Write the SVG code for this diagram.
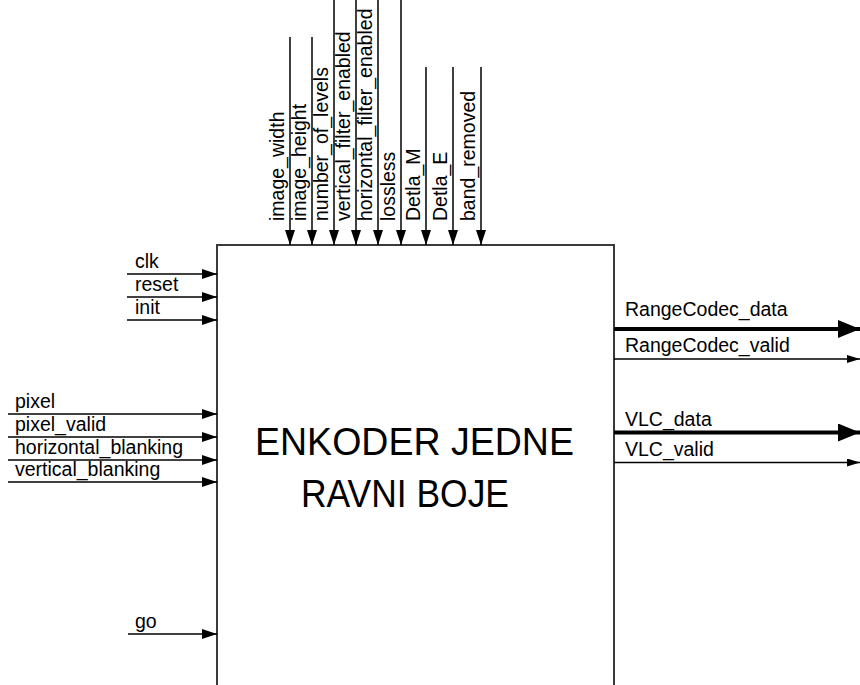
<svg xmlns="http://www.w3.org/2000/svg" width="860" height="685" viewBox="0 0 860 685">
<defs>
<style>
text{font-family:"Liberation Sans",Arial,sans-serif;fill:#000}
.lbl{font-size:19.5px}
.title{font-size:39px}
.w{stroke:#000;stroke-width:1.5;fill:none}
.thick{stroke:#000;stroke-width:4;fill:none}
.box{stroke:#3a3a3a;stroke-width:2;fill:#fff}
</style>
<marker id="ah" markerUnits="userSpaceOnUse" viewBox="0 0 15 10" refX="15" refY="5" markerWidth="15" markerHeight="10" orient="auto">
<path d="M0,0 L15,5 L0,10 z" fill="#000"/>
</marker>
<marker id="ahs" markerUnits="userSpaceOnUse" viewBox="0 0 13 8" refX="13" refY="4" markerWidth="13" markerHeight="8" orient="auto">
<path d="M0,0 L13,4 L0,8 z" fill="#000"/>
</marker>
<marker id="ahb" markerUnits="userSpaceOnUse" viewBox="0 0 22 18" refX="22" refY="9" markerWidth="22" markerHeight="18" orient="auto">
<path d="M0,0 L22,9 L0,18 z" fill="#000"/>
</marker>
</defs>
<rect width="860" height="685" fill="#fff"/>

<g id="encoder">
<path class="box" d="M217,690 V245 H614 V690"/>
<text class="title" x="255" y="455" textLength="319" lengthAdjust="spacingAndGlyphs">ENKODER JEDNE</text>
<text class="title" x="301" y="507" textLength="208" lengthAdjust="spacingAndGlyphs">RAVNI BOJE</text>
</g>

<g id="connectors">
<line class="w" x1="290" y1="37" x2="290" y2="245" marker-end="url(#ah)"/>
<line class="w" x1="312" y1="37" x2="312" y2="245" marker-end="url(#ah)"/>
<line class="w" x1="334" y1="0" x2="334" y2="245" marker-end="url(#ah)"/>
<line class="w" x1="356" y1="0" x2="356" y2="245" marker-end="url(#ah)"/>
<line class="w" x1="378" y1="0" x2="378" y2="245" marker-end="url(#ah)"/>
<line class="w" x1="401" y1="0" x2="401" y2="245" marker-end="url(#ah)"/>
<line class="w" x1="426" y1="67" x2="426" y2="245" marker-end="url(#ah)"/>
<line class="w" x1="453" y1="67" x2="453" y2="245" marker-end="url(#ah)"/>
<line class="w" x1="481" y1="67" x2="481" y2="245" marker-end="url(#ah)"/>

<line class="w" x1="127" y1="274" x2="217" y2="274" marker-end="url(#ah)"/>
<line class="w" x1="127" y1="297" x2="217" y2="297" marker-end="url(#ah)"/>
<line class="w" x1="127" y1="320" x2="217" y2="320" marker-end="url(#ah)"/>
<line class="w" x1="8" y1="414" x2="217" y2="414" marker-end="url(#ah)"/>
<line class="w" x1="8" y1="437" x2="217" y2="437" marker-end="url(#ah)"/>
<line class="w" x1="8" y1="460" x2="217" y2="460" marker-end="url(#ah)"/>
<line class="w" x1="8" y1="482" x2="217" y2="482" marker-end="url(#ah)"/>
<line class="w" x1="128" y1="634" x2="217" y2="634" marker-end="url(#ah)"/>

<line class="thick" x1="614" y1="329" x2="860" y2="329" marker-end="url(#ahb)"/>
<line class="w" x1="614" y1="359" x2="860" y2="359" marker-end="url(#ahs)"/>
<line class="thick" x1="614" y1="432.5" x2="860" y2="432.5" marker-end="url(#ahb)"/>
<line class="w" x1="614" y1="462.5" x2="860" y2="462.5" marker-end="url(#ahs)"/>
</g>

<g id="labels-top" class="lbl">
<text transform="translate(284,221) rotate(-90)">image_width</text>
<text transform="translate(306,221) rotate(-90)">image_height</text>
<text transform="translate(328,221) rotate(-90)">number_of_levels</text>
<text transform="translate(350,221) rotate(-90)">vertical_filter_enabled</text>
<text transform="translate(372,221) rotate(-90)">horizontal_filter_enabled</text>
<text transform="translate(395,221) rotate(-90)">lossless</text>
<text transform="translate(420,221) rotate(-90)">Detla_M</text>
<text transform="translate(447,221) rotate(-90)">Detla_E</text>
<text transform="translate(475,221) rotate(-90)">band_removed</text>
</g>

<g id="labels-left" class="lbl">
<text x="135" y="268">clk</text>
<text x="135" y="291">reset</text>
<text x="135" y="314">init</text>
<text x="15" y="408">pixel</text>
<text x="15" y="431">pixel_valid</text>
<text x="15" y="454">horizontal_blanking</text>
<text x="15" y="476">vertical_blanking</text>
<text x="135" y="628">go</text>
</g>

<g id="labels-right" class="lbl">
<text x="625" y="316">RangeCodec_data</text>
<text x="625" y="352">RangeCodec_valid</text>
<text x="625" y="426">VLC_data</text>
<text x="625" y="456">VLC_valid</text>
</g>
</svg>
